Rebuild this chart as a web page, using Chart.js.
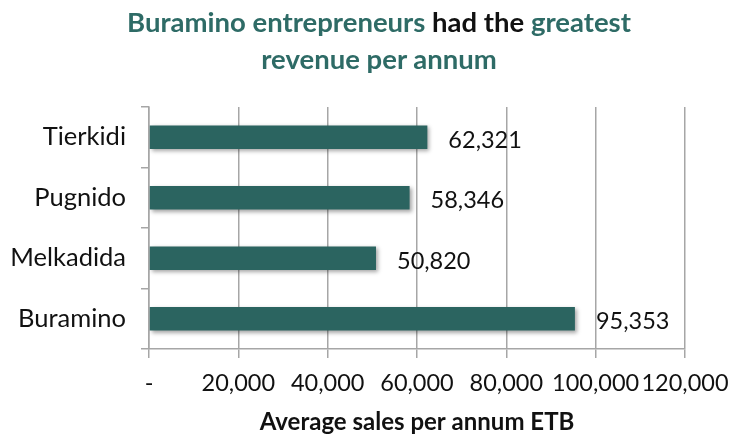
<!DOCTYPE html>
<html>
<head>
<meta charset="utf-8">
<script src="https://cdn.jsdelivr.net/npm/chart.js@4"></script>
<style>
  html,body{margin:0;padding:0;background:#fff;}
  #wrap{position:relative;width:730px;height:437px;}
  #title{
    position:absolute;left:28px;top:3px;width:702px;
    text-align:center;font-family:Lato,"Open Sans",sans-serif;
    font-weight:bold;font-size:27.5px;line-height:37px;color:#2e6b66;
  }
  #title .dark{color:#111;}
  canvas{position:absolute;left:0;top:0;}
</style>
</head>
<body>
<div id="wrap">
  <canvas id="salesChart" width="730" height="437"></canvas>
  <div id="title">Buramino entrepreneurs <span class="dark">had the</span> greatest<br>revenue per annum</div>
</div>
<script>
const categories = ["Tierkidi","Pugnido","Melkadida","Buramino"];
const revenue = [62321,58346,50820,95353];
const axisMax = 120000;
const axisStep = 20000;
const axisTitle = "Average sales per annum ETB";

const FONT = "Lato, 'Open Sans', sans-serif";
const BAR = "#2b6460";
const GRID = "#a6a6a6";

// value labels right of each bar, plus a soft bar shadow
const valueLabels = {
    id:"valueLabels",
    beforeDatasetsDraw(chart){
        const ctx = chart.ctx;
        ctx.save();
        ctx.shadowColor = "rgba(0,0,0,0.35)";
        ctx.shadowBlur = 4;
        ctx.shadowOffsetX = 2;
        ctx.shadowOffsetY = 2;
    },
    afterDatasetsDraw(chart){
        const ctx = chart.ctx;
        ctx.restore();
        ctx.save();
        ctx.font = "23.5px " + FONT;
        ctx.fillStyle = "#111";
        ctx.textAlign = "left";
        ctx.textBaseline = "middle";
        chart.getDatasetMeta(0).data.forEach((bar,i)=>{
            ctx.fillText(revenue[i].toLocaleString("en-US"), bar.x + 21, bar.y + 3);
        });
        ctx.restore();
    }
};

new Chart(document.getElementById("salesChart").getContext("2d"),{
    type:"bar",
    data:{
        labels:categories,
        datasets:[{
            data:revenue,
            backgroundColor:BAR,
            barPercentage:0.39,
            categoryPercentage:1
        }]
    },
    options:{
        indexAxis:"y",
        responsive:false,
        animation:false,
        layout:{padding:{top:107,left:10,right:45,bottom:0}},
        plugins:{
            legend:{display:false},
            tooltip:{enabled:false}
        },
        scales:{
            x:{
                min:0,
                max:axisMax,
                ticks:{
                    stepSize:axisStep,
                    color:"#111",
                    font:{family:FONT,size:23.5},
                    padding:11,
                    maxRotation:0,
                    autoSkip:false,
                    callback:v=>v===0 ? "-" : v.toLocaleString("en-US")
                },
                grid:{color:GRID,lineWidth:1.5,tickLength:9},
                border:{color:GRID,width:1.5},
                title:{
                    display:true,
                    text:axisTitle,
                    color:"#111",
                    font:{family:FONT,size:24,weight:"bold"},
                    padding:{top:4,bottom:0}
                },
                afterFit(scale){
                    scale.height = 88;
                    scale.paddingLeft = 0;
                    scale.paddingRight = 0;
                }
            },
            y:{
                ticks:{
                    color:"#111",
                    font:{family:FONT,size:25.5},
                    padding:15
                },
                grid:{drawOnChartArea:false,color:GRID,lineWidth:1.5,tickLength:8},
                border:{color:GRID,width:1.5},
                afterFit(scale){ scale.width = 139; }
            }
        }
    },
    plugins:[valueLabels]
});
</script>
</body>
</html>
